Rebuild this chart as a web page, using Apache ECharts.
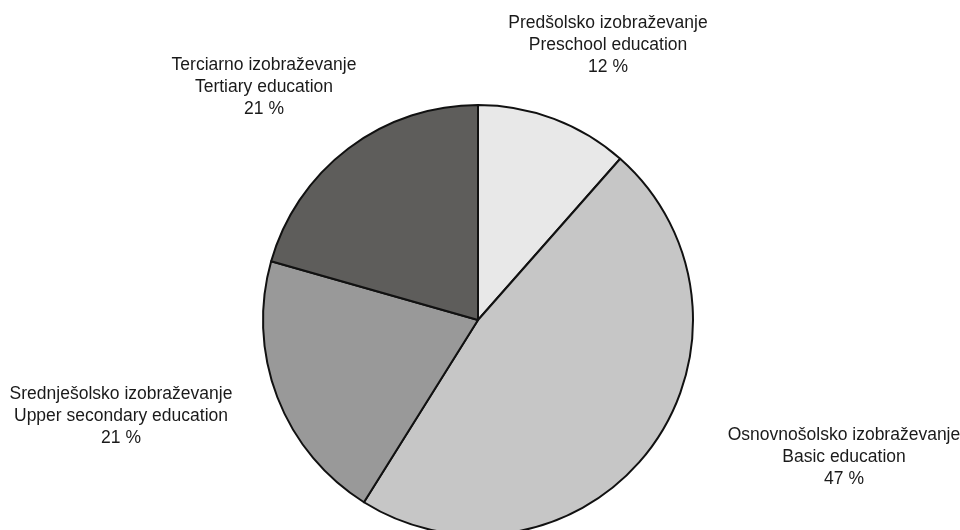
<!DOCTYPE html>
<html>
<head>
<meta charset="utf-8">
<script src="https://cdn.jsdelivr.net/npm/echarts@6/dist/echarts.min.js"></script>
<style>html,body{margin:0;padding:0;background:#fff}#c{width:960px;height:530px}</style>
</head>
<body>
<div id="c"></div>
<script>
var namesSl = ['Predšolsko izobraževanje', 'Osnovnošolsko izobraževanje', 'Srednješolsko izobraževanje', 'Terciarno izobraževanje'];
var namesEn = ['Preschool education', 'Basic education', 'Upper secondary education', 'Tertiary education'];
var shares = [11.5, 47.4, 20.5, 20.6];
var colors = ['#e8e8e8', '#c6c6c6', '#999999', '#5e5d5b'];
var labelPos = [[608, 45], [844, 457], [121, 416], [264, 87]];

var chart = echarts.init(document.getElementById('c'), null, {renderer: 'canvas'});
chart.setOption({
  animation: false,
  backgroundColor: '#ffffff',
  series: [{
    type: 'pie',
    center: [478, 320],
    radius: 215,
    startAngle: 90,
    clockwise: true,
    avoidLabelOverlap: false,
    data: shares.map(function (v, i) {
      return {value: v, name: namesSl[i], itemStyle: {color: colors[i]}};
    }),
    itemStyle: {borderColor: '#111111', borderWidth: 2},
    label: {
      show: true,
      position: 'outside',
      formatter: function (p) {
        return namesSl[p.dataIndex] + '\n' + namesEn[p.dataIndex] + '\n' + Math.round(p.value) + ' %';
      },
      fontFamily: '"Liberation Sans Narrow", "Arial Narrow", "Liberation Sans", Arial, sans-serif',
      fontSize: 17.5,
      lineHeight: 22,
      color: '#1a1a1a',
      align: 'center'
    },
    labelLine: {show: false},
    labelLayout: function (params) {
      var p = labelPos[params.dataIndex];
      return {x: p[0], y: p[1], align: 'center', verticalAlign: 'middle'};
    },
    emphasis: {disabled: true}
  }]
});
</script>
</body>
</html>
